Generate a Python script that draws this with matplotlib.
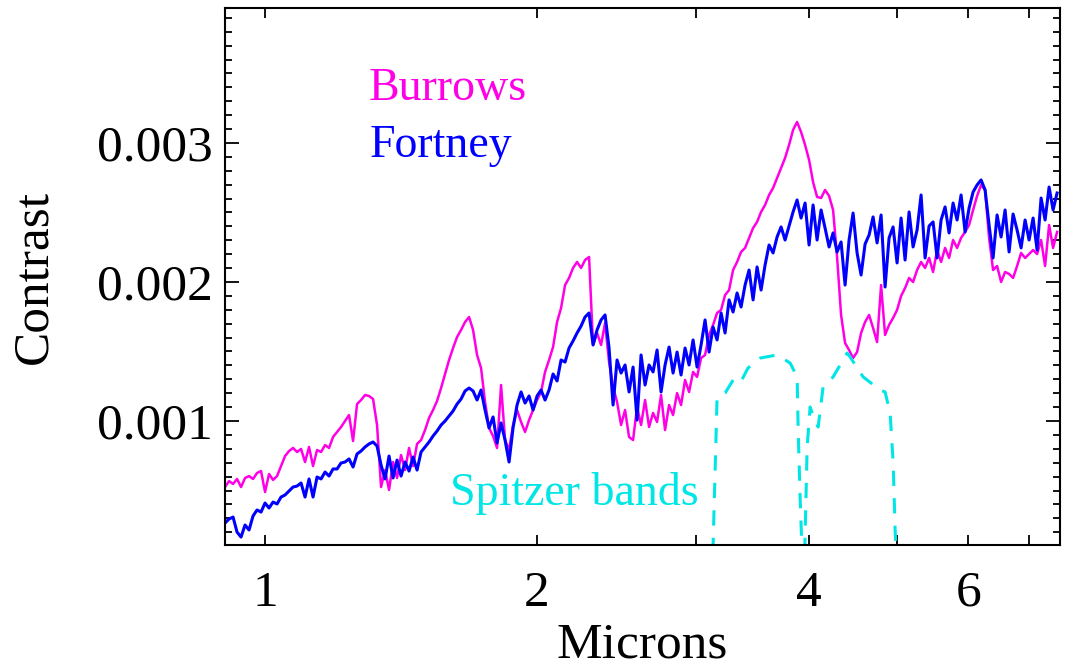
import numpy as np
import matplotlib
matplotlib.use("Agg")
import matplotlib.pyplot as plt
from matplotlib.ticker import FixedLocator, MultipleLocator, NullFormatter, FormatStrFormatter

# spectra sampled on an even log grid in wavelength (microns)
wave = np.geomspace(0.9031, 7.524, 209)

# contrast in units of 1e-3
burrows = [
    0.525, 0.568, 0.547, 0.583, 0.525, 0.590, 0.604, 0.583, 0.626, 0.640,
    0.489, 0.619, 0.576, 0.604, 0.676, 0.748, 0.784, 0.806, 0.777, 0.799,
    0.705, 0.813, 0.676, 0.791, 0.777, 0.827, 0.806, 0.885, 0.921, 0.957,
    1.000, 1.043, 0.856, 1.122, 1.151, 1.187, 1.180, 1.158, 0.971, 0.525,
    0.647, 0.504, 0.705, 0.590, 0.755, 0.647, 0.806, 0.676, 0.835, 0.863,
    0.935, 1.022, 1.079, 1.144, 1.237, 1.338, 1.439, 1.525, 1.604, 1.655,
    1.712, 1.748, 1.655, 1.475, 1.381, 1.137, 0.950, 0.892, 0.806, 1.259,
    0.863, 0.791, 0.971, 1.079, 0.993, 0.921, 1.007, 1.079, 1.151, 1.209,
    1.353, 1.439, 1.532, 1.712, 1.813, 1.978, 2.029, 2.101, 2.144, 2.101,
    2.158, 2.180, 1.547, 1.633, 1.547, 1.705, 1.424, 1.245, 1.137, 0.971,
    1.079, 0.885, 0.863, 1.101, 0.971, 1.151, 0.957, 1.058, 0.993, 1.187,
    0.935, 1.115, 1.043, 1.201, 1.115, 1.295, 1.209, 1.353, 1.317, 1.453,
    1.475, 1.619, 1.691, 1.777, 1.799, 1.906, 1.942, 2.086, 2.144, 2.216,
    2.245, 2.317, 2.388, 2.432, 2.504, 2.554, 2.626, 2.676, 2.748, 2.820,
    2.892, 2.986, 3.094, 3.151, 3.079, 2.986, 2.878, 2.719, 2.612, 2.604,
    2.662, 2.619, 2.518, 2.180, 1.763, 1.561, 1.511, 1.453, 1.496, 1.633,
    1.712, 1.763, 1.669, 1.568, 1.978, 1.619, 1.691, 1.741, 1.799, 1.899,
    1.957, 2.029, 2.000, 2.086, 2.144, 2.101, 2.173, 2.072, 2.230, 2.144,
    2.245, 2.173, 2.302, 2.245, 2.317, 2.360, 2.410, 2.518, 2.619, 2.698,
    2.662, 2.317, 2.086, 2.115, 2.000, 2.072, 2.058, 2.029, 2.115, 2.209,
    2.173, 2.201, 2.230, 2.201, 2.302, 2.115, 2.410, 2.245, 2.360,
]

fortney = [
    0.266, 0.295, 0.309, 0.201, 0.165, 0.252, 0.216, 0.317, 0.360, 0.345,
    0.410, 0.374, 0.417, 0.403, 0.453, 0.468, 0.496, 0.525, 0.532, 0.554,
    0.453, 0.583, 0.453, 0.597, 0.583, 0.633, 0.604, 0.655, 0.655, 0.698,
    0.705, 0.727, 0.669, 0.763, 0.784, 0.813, 0.835, 0.849, 0.820, 0.683,
    0.583, 0.748, 0.590, 0.719, 0.604, 0.705, 0.640, 0.741, 0.647, 0.777,
    0.813, 0.849, 0.892, 0.928, 0.971, 1.000, 1.036, 1.072, 1.122, 1.158,
    1.216, 1.237, 1.216, 1.151, 1.223, 1.079, 0.950, 1.029, 0.842, 0.986,
    0.863, 0.705, 0.950, 1.115, 1.209, 1.129, 1.180, 1.079, 1.180, 1.223,
    1.151, 1.223, 1.338, 1.288, 1.439, 1.424, 1.525, 1.576, 1.633, 1.683,
    1.748, 1.777, 1.547, 1.655, 1.727, 1.763, 1.525, 1.115, 1.439, 1.345,
    1.403, 1.209, 1.388, 1.007, 1.475, 1.259, 1.403, 1.353, 1.511, 1.209,
    1.403, 1.532, 1.345, 1.496, 1.331, 1.525, 1.403, 1.583, 1.388, 1.547,
    1.727, 1.496, 1.676, 1.583, 1.777, 1.633, 1.871, 1.784, 1.921, 1.820,
    1.978, 2.086, 1.871, 2.108, 1.942, 2.122, 2.266, 2.209, 2.324, 2.396,
    2.302, 2.403, 2.504, 2.590, 2.460, 2.568, 2.266, 2.554, 2.302, 2.518,
    2.388, 2.252, 2.353, 2.216, 2.288, 1.978, 2.302, 2.496, 2.209, 2.050,
    2.273, 2.338, 2.468, 2.281, 2.482, 1.964, 2.317, 2.396, 2.137, 2.460,
    2.158, 2.504, 2.252, 2.374, 2.626, 2.173, 2.403, 2.432, 2.173, 2.446,
    2.540, 2.353, 2.568, 2.446, 2.626, 2.360, 2.532, 2.647, 2.698, 2.734,
    2.662, 2.410, 2.173, 2.482, 2.324, 2.518, 2.216, 2.489, 2.374, 2.245,
    2.446, 2.302, 2.460, 2.230, 2.604, 2.446, 2.683, 2.518, 2.640,
]

# Spitzer IRAC band shapes (scaled, same units)
ch1_wave = [3.130, 3.164, 3.229, 3.296, 3.356, 3.423, 3.531, 3.687, 3.811, 3.880, 3.890, 3.909, 3.929]
ch1_resp = [0.050, 1.173, 1.201, 1.295, 1.273, 1.381, 1.453, 1.475, 1.417, 1.317, 0.935, 0.453, 0.050]
ch2_wave = [3.955, 3.980, 4.010, 4.031, 4.093, 4.145, 4.252, 4.407, 4.441, 4.590, 4.793, 4.854, 4.917, 4.955, 4.980, 4.993]
ch2_resp = [0.050, 0.813, 1.101, 1.058, 0.957, 1.245, 1.317, 1.489, 1.460, 1.317, 1.223, 1.209, 1.058, 0.698, 0.216, 0.050]

xticks = [1, 2, 4, 6]
xminor = [3, 5, 7]

MAG = "#ff00e6"
BLU = "#0000ff"
CYA = "#00e6e6"

plt.rcParams["font.family"] = ["Liberation Serif", "DejaVu Serif"]

fig = plt.figure(figsize=(10.75, 6.67), dpi=100)
ax = fig.add_axes([225 / 1075, (667 - 545) / 667, 835 / 1075, 537 / 667])

ax.plot(wave, np.array(burrows) * 1e-3, color=MAG, lw=1.8)
ax.plot(wave, np.array(fortney) * 1e-3, color=BLU, lw=2.2)
ax.plot(ch1_wave, np.array(ch1_resp) * 1e-3, color=CYA, lw=2.2, ls=(0, (5, 4)))
ax.plot(ch2_wave, np.array(ch2_resp) * 1e-3, color=CYA, lw=2.2, ls=(0, (5, 4)))

ax.set_xscale("log")
ax.set_xlim(0.903, 7.58)
ax.set_ylim(0.000108, 0.003971)

ax.xaxis.set_major_locator(FixedLocator(xticks))
ax.xaxis.set_major_formatter(FormatStrFormatter("%d"))
ax.xaxis.set_minor_locator(FixedLocator(xminor))
ax.xaxis.set_minor_formatter(NullFormatter())
ax.yaxis.set_major_locator(MultipleLocator(0.001))
ax.yaxis.set_major_formatter(FormatStrFormatter("%.3f"))
ax.yaxis.set_minor_locator(MultipleLocator(0.0001))

ax.tick_params(which="both", direction="in", top=True, right=True, width=1.3, labelsize=37)
ax.tick_params(axis="y", which="major", length=10, pad=9)
ax.tick_params(axis="y", which="minor", length=5)
ax.tick_params(axis="x", which="both", length=7, pad=18)
for s in ax.spines.values():
    s.set_linewidth(1.5)

ax.set_xlabel("Microns", fontsize=37, labelpad=4)
ax.set_ylabel("Contrast", fontsize=37, labelpad=28)

ax.text(0.1725, 0.829, "Burrows", color=MAG, fontsize=33, transform=ax.transAxes, va="baseline")
ax.text(0.1737, 0.7225, "Fortney", color=BLU, fontsize=33, transform=ax.transAxes, va="baseline")
ax.text(0.2695, 0.0745, "Spitzer bands", color=CYA, fontsize=33, transform=ax.transAxes, va="baseline")

fig.savefig("out.png", dpi=100)
